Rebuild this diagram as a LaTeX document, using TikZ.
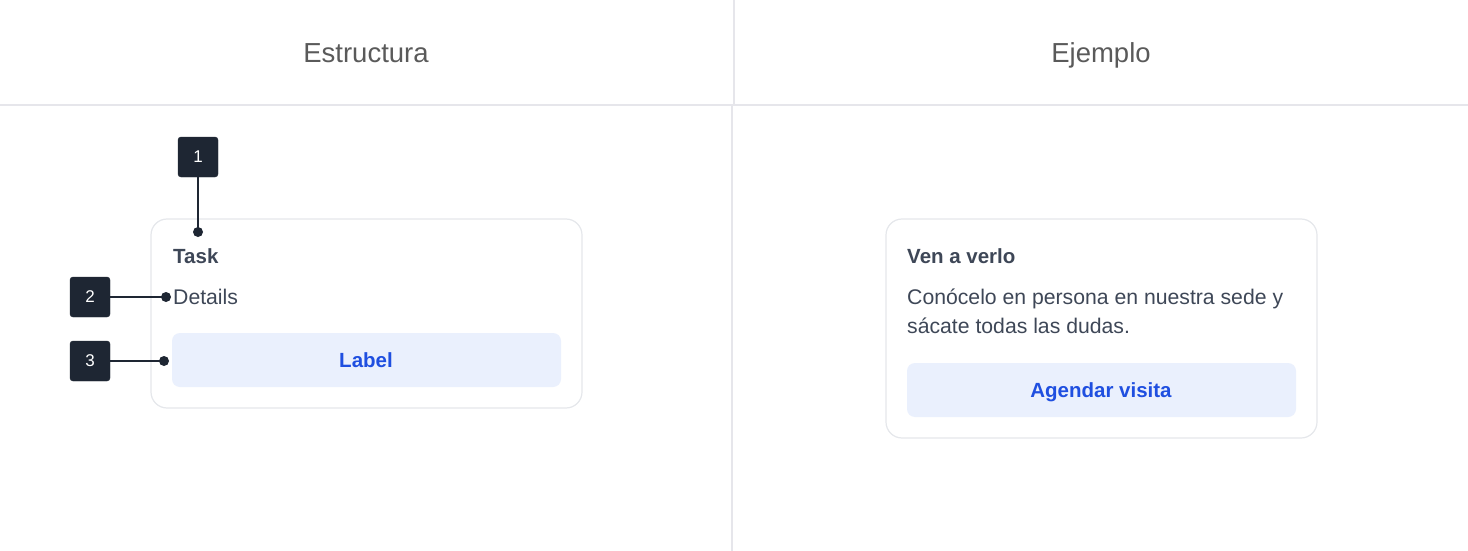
\documentclass[tikz,border=0pt]{standalone}
\usepackage{fontspec}
\setmainfont{Liberation Sans}
\definecolor{rule}{HTML}{E6E6EB}
\definecolor{cardline}{HTML}{E5E7EB}
\definecolor{head}{HTML}{5A5A5A}
\definecolor{ink}{HTML}{3E4757}
\definecolor{mark}{HTML}{1E2633}
\definecolor{btnfill}{HTML}{EAF0FD}
\definecolor{btntext}{HTML}{1F4FE0}
\begin{document}
\begin{tikzpicture}[x=1pt, y=-1pt,
  header/.style={anchor=base, inner sep=0pt, text=head, font=\fontsize{27.5}{32}\selectfont},
  card/.style={draw=cardline, line width=1.2pt, rounded corners=16pt, fill=white},
  button/.style={fill=btnfill, rounded corners=8pt},
  title/.style={anchor=base west, inner sep=0pt, text=ink, font=\fontsize{20.5}{24}\selectfont\bfseries},
  body/.style={anchor=base west, inner sep=0pt, text=ink, font=\fontsize{21.2}{24}\selectfont},
  btnlabel/.style={anchor=base, inner sep=0pt, text=btntext, font=\fontsize{20.5}{24}\selectfont\bfseries},
  marker/.style={fill=mark, draw=mark, rounded corners=3pt, minimum size=40pt, inner sep=0pt, text=white, font=\fontsize{17}{20}\selectfont},
  dot/.style={shape=circle, fill=mark, minimum size=10pt, inner sep=0pt}]
\useasboundingbox (0,0) rectangle (1468,551);
% grid
\draw[rule, line width=2pt] (0,105) -- (1468,105);
\draw[rule, line width=2pt] (734,0) -- (734,105);
\draw[rule, line width=2pt] (732,105) -- (732,551);
\node[header] (hstruct) at (366,63) {Estructura};
\node[header] (hex) at (1101,63) {Ejemplo};
% structure card
\draw[card] (151,219) rectangle (582,408);
\fill[button] (172,333) rectangle (561,387);
\node[title] (task) at (173,263) {Task};
\node[body] (details) at (173,304) {Details};
\node[btnlabel] (label) at (366,367) {Label};
\node[marker] (m1) at (198,157) {1};
\node[marker] (m2) at (90,297) {2};
\node[marker] (m3) at (90,361) {3};
\node[dot] (d1) at (198,232) {};
\node[dot] (d2) at (166,297) {};
\node[dot] (d3) at (164,361) {};
\path [-, line width=1.5pt, draw=mark] (m1) edge (d1.center);
\path [-, line width=1.5pt, draw=mark] (m2) edge (d2.center);
\path [-, line width=1.5pt, draw=mark] (m3) edge (d3.center);
% example card
\draw[card] (886,219) rectangle (1317,438);
\fill[button] (907,363) rectangle (1296,417);
\node[title] (ven) at (907,263) {Ven a verlo};
\node[body] (line1) at (907,304) {Conócelo en persona en nuestra sede y};
\node[body] (line2) at (907,333) {sácate todas las dudas.};
\node[btnlabel] (agendar) at (1101,397) {Agendar visita};
\end{tikzpicture}
\end{document}
